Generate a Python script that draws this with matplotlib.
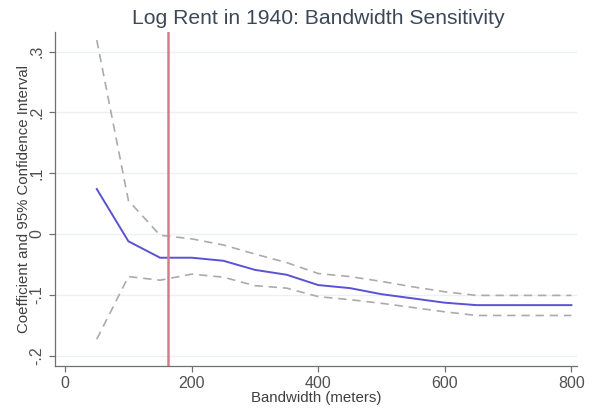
import numpy as np
import matplotlib
matplotlib.use("Agg")
import matplotlib.pyplot as plt

plt.rcParams['font.family'] = ['Liberation Sans', 'DejaVu Sans']

# bandwidth (meters) and estimates
bandwidth = [50, 100, 150, 200, 250, 300, 350, 400, 450, 500, 550, 600, 650, 700, 750, 800]
coef = [0.074, -0.012, -0.039, -0.039, -0.044, -0.059, -0.067, -0.084, -0.089,
        -0.099, -0.106, -0.113, -0.117, -0.117, -0.117, -0.117]
ci_upper = [0.319, 0.055, -0.002, -0.008, -0.018, -0.033, -0.047, -0.065, -0.070,
            -0.078, -0.087, -0.095, -0.101, -0.101, -0.101, -0.101]
ci_lower = [-0.173, -0.070, -0.076, -0.066, -0.071, -0.085, -0.089, -0.103, -0.108,
            -0.114, -0.121, -0.128, -0.134, -0.134, -0.134, -0.134]
chosen_bw = 163

xticks = [0, 200, 400, 600, 800]
yticks = [-0.2, -0.1, 0, 0.1, 0.2, 0.3]
ylabels = ['-.2', '-.1', '0', '.1', '.2', '.3']

fig = plt.figure(figsize=(5.96, 4.13), dpi=100)
ax = fig.add_axes([0.0923, 0.114, 0.876, 0.808])

ax.plot(bandwidth, ci_upper, color='#ababab', lw=1.2, ls=(0, (5, 3.5)))
ax.plot(bandwidth, ci_lower, color='#ababab', lw=1.2, ls=(0, (5, 3.5)))
ax.plot(bandwidth, coef, color='#5a52d6', lw=1.4)
ax.axvline(chosen_bw, color='#d97a8c', lw=1.8)

ax.set_xlim(-16, 809)
ax.set_ylim(-0.217, 0.332)
ax.set_xticks(xticks)
ax.set_yticks(yticks)
ax.set_yticklabels(ylabels, rotation=90, va='center')
ax.grid(axis='y', color='#eef0f0', lw=1)
ax.set_axisbelow(True)

for s in ['top', 'right']:
    ax.spines[s].set_visible(False)
for s in ['left', 'bottom']:
    ax.spines[s].set_color('#707070')
    ax.spines[s].set_linewidth(0.9)
ax.tick_params(colors='#707070', labelcolor='#505050', labelsize=11.5, length=4, width=0.9)

ax.set_xlabel('Bandwidth (meters)', fontsize=10.8, color='#404040', labelpad=0)
ax.set_ylabel('Coefficient and 95% Confidence Interval', fontsize=10.8, color='#404040', labelpad=-1)
fig.text(0.534, 0.956, 'Log Rent in 1940: Bandwidth Sensitivity', ha='center', va='center',
         fontsize=15.2, color='#3c4858')

fig.savefig('out.png', dpi=100, facecolor='white')
